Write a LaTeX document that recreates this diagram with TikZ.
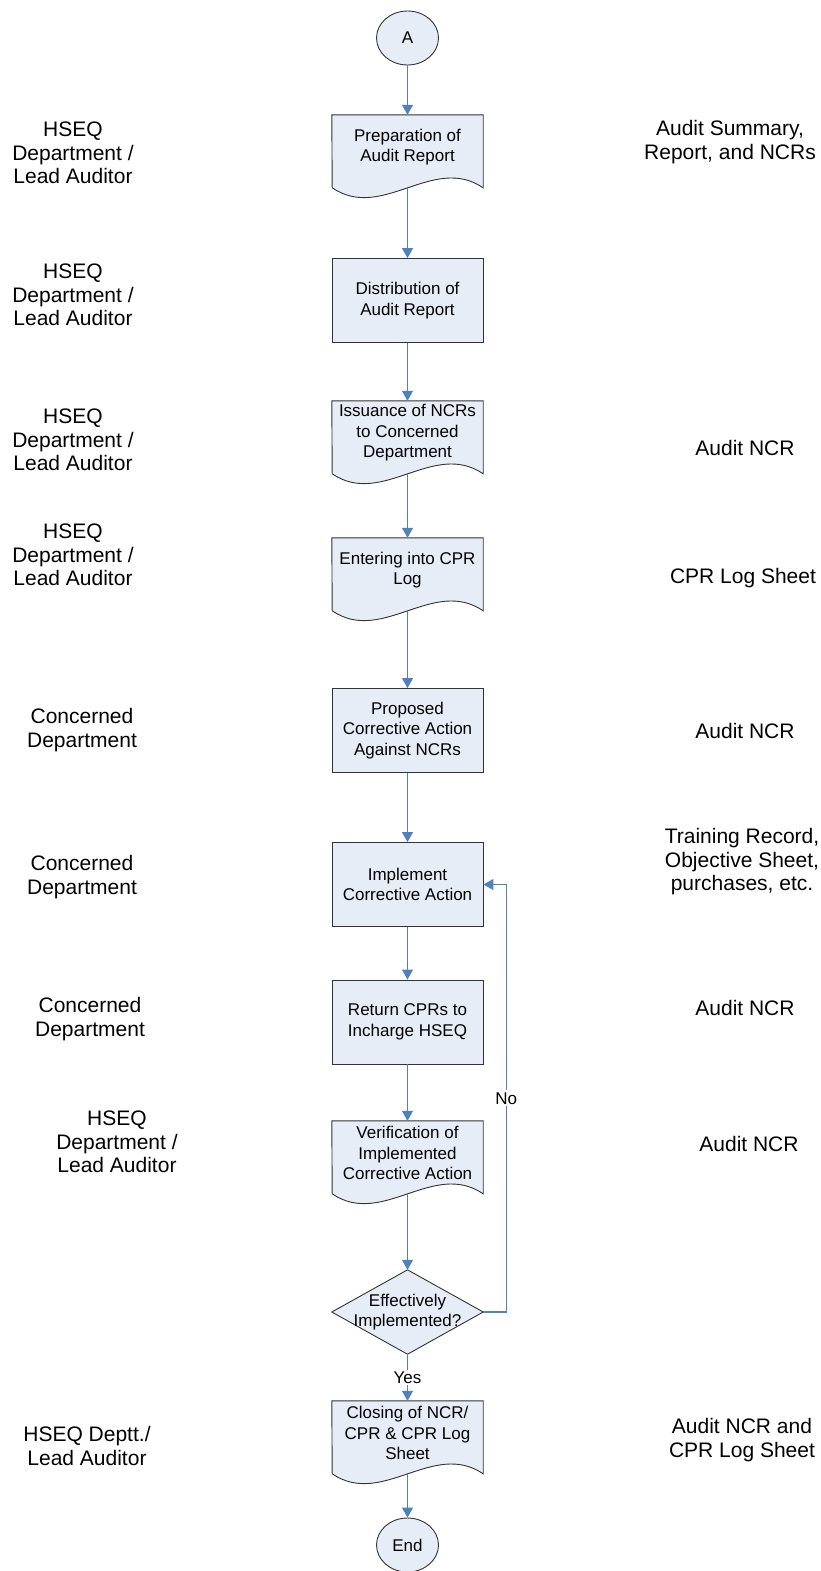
\documentclass[tikz,border=0pt]{standalone}
\usepackage{fontspec}
\setmainfont{Liberation Sans}
\usetikzlibrary{arrows.meta,shapes.geometric,backgrounds}
\definecolor{flowblue}{RGB}{79,129,189}
\definecolor{boxfill}{RGB}{231,237,247}

\begin{document}
\begin{tikzpicture}[x=1pt, y=-1pt,
        proc/.style={draw=black!80, fill=boxfill, line width=0.9pt, minimum width=151pt, minimum height=84pt, align=center, inner sep=2pt, font=\fontsize{17}{20.5}\selectfont},
        docbox/.style={minimum width=151pt, minimum height=64pt, align=center, inner sep=2pt, font=\fontsize{17}{20.5}\selectfont},
        docline/.style={draw=black!80, fill=boxfill, line width=0.9pt},
        term/.style={ellipse, draw=black!80, fill=boxfill, line width=0.9pt, minimum width=62pt, minimum height=54pt, font=\fontsize{17}{20.5}\selectfont},
        test/.style={minimum width=151pt, minimum height=84pt, align=center, inner sep=0pt, font=\fontsize{17}{20.5}\selectfont},
        side/.style={align=center, font=\fontsize{21}{23.5}\selectfont},
        lbl/.style={fill=white, text=black, inner sep=2pt, font=\fontsize{17}{20.5}\selectfont},
        flow/.style={flowblue, line width=1.1pt, -{Triangle[width=11pt,length=10pt]}}]
                \useasboundingbox (0,0) rectangle (821,1571);

                % Main column of steps
                \node[term] (a) at (407.5,38) {A};
                \node[docbox] (prep) at (407.5,147) {Preparation of\\Audit Report};
                \node[proc] (dist) at (407.5,300.5) {Distribution of\\Audit Report};
                \node[docbox] (issue) at (407.5,433) {Issuance of NCRs\\to Concerned\\Department};
                \node[docbox] (entry) at (407.5,570) {Entering into CPR\\Log};
                \node[proc] (prop) at (407.5,730.5) {Proposed\\Corrective Action\\Against NCRs};
                \node[proc] (impl) at (407.5,884.5) {Implement\\Corrective Action};
                \node[proc] (ret) at (407.5,1022) {Return CPRs to\\Incharge HSEQ};
                \node[docbox] (verif) at (407.5,1153) {Verification of\\Implemented\\Corrective Action};
                \node[test] (eff) at (407.5,1312) {Effectively\\Implemented?};
                \node[docbox] (close) at (407.5,1433) {Closing of NCR/\\CPR \& CPR Log\\Sheet};
                \node[term] (fin) at (407.5,1545) {End};

                % Document outlines and decision diamond behind the text
                \begin{scope}[on background layer]
                    \foreach \n in {prep,issue,entry,verif,close}{
                        \draw[docline] (\n.north west) -- (\n.north east) -- ++(0,73)
                            .. controls +(-50,-34) and +(50,34) .. ++(-151,0) -- cycle;
                        \coordinate (\n-out) at ([yshift=-9pt]\n.south);
                    }
                    \draw[docline] (eff.west) -- (eff.north) -- (eff.east) -- (eff.south) -- cycle;
                \end{scope}

                % Who does it
                \node[side] (who1) at (73,153) {HSEQ\\Department /\\Lead Auditor};
                \node[side] (who2) at (73,295) {HSEQ\\Department /\\Lead Auditor};
                \node[side] (who3) at (73,440) {HSEQ\\Department /\\Lead Auditor};
                \node[side] (who4) at (73,555) {HSEQ\\Department /\\Lead Auditor};
                \node[side] (who5) at (82,730) {Concerned\\Department};
                \node[side] (who6) at (82,877) {Concerned\\Department};
                \node[side] (who7) at (90,1019) {Concerned\\Department};
                \node[side] (who8) at (117,1142) {HSEQ\\Department /\\Lead Auditor};
                \node[side] (who9) at (87,1446) {HSEQ Deptt./\\Lead Auditor};

                % Records kept
                \node[side] (rec1) at (730,142) {Audit Summary,\\Report, and NCRs};
                \node[side] (rec3) at (745,448) {Audit NCR};
                \node[side] (rec4) at (743,578) {CPR Log Sheet};
                \node[side] (rec5) at (745,731) {Audit NCR};
                \node[side] (rec6) at (742,862) {Training Record,\\Objective Sheet,\\purchases, etc.};
                \node[side] (rec7) at (745,1008) {Audit NCR};
                \node[side] (rec8) at (749,1144) {Audit NCR};
                \node[side] (rec9) at (742,1440) {Audit NCR and\\CPR Log Sheet};

                % Flow
                \draw[flow] (a) -- (prep);
                \draw[flow] (prep-out) -- (dist);
                \draw[flow] (dist) -- (issue);
                \draw[flow] (issue-out) -- (entry);
                \draw[flow] (entry-out) -- (prop);
                \draw[flow] (prop) -- (impl);
                \draw[flow] (impl) -- (ret);
                \draw[flow] (ret) -- (verif);
                \draw[flow] (verif-out) -- (eff);
                \draw[flow] (eff) -- node[lbl] {Yes} (close);
                \draw[flow] (close-out) -- (fin);

                % Loop back when not effective
                \draw[flow] (eff.east) -- ++(23,0) |- node[lbl, pos=0.25] {No} (impl.east);
            \end{tikzpicture}
\end{document}
